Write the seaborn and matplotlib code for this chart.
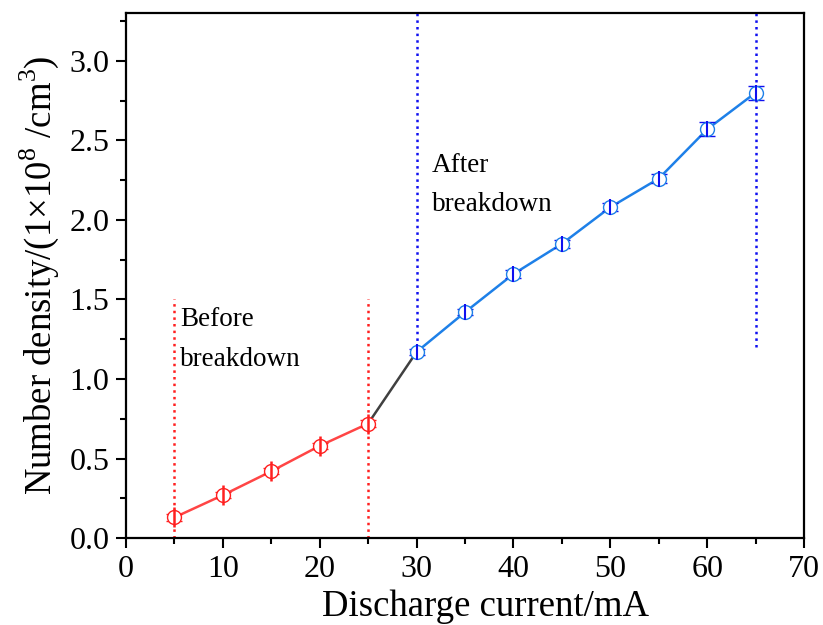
import numpy as np
import pandas as pd
import matplotlib
matplotlib.use("Agg")
import matplotlib.pyplot as plt
import seaborn as sns
from matplotlib.ticker import MultipleLocator

# Data
before_x = [5, 10, 15, 20, 25]
before_y = [0.13, 0.27, 0.42, 0.58, 0.72]
before_err = [0.02, 0.02, 0.02, 0.02, 0.02]
after_x = [30, 35, 40, 45, 50, 55, 60, 65]
after_y = [1.17, 1.42, 1.66, 1.85, 2.08, 2.26, 2.57, 2.80]
after_err = [0.02, 0.02, 0.025, 0.025, 0.025, 0.03, 0.044, 0.044]
link_x = [25, 30]
link_y = [0.72, 1.17]

sns.set_theme(style="ticks")
plt.rcParams['font.family'] = ['Liberation Serif', 'DejaVu Serif']
plt.rcParams['mathtext.fontset'] = 'custom'
plt.rcParams['mathtext.rm'] = 'Liberation Serif'
plt.rcParams['text.color'] = 'black'
plt.rcParams['axes.labelcolor'] = 'black'
plt.rcParams['xtick.color'] = 'black'
plt.rcParams['ytick.color'] = 'black'

fig = plt.figure(figsize=(8.23, 6.25), dpi=100)
ax = fig.add_axes([0.153, 0.139, 0.824, 0.840])

red = '#FF2020'
red_line = '#FF4545'
blue = '#1010F0'
blue_line = '#1E80E8'
gray = '#404040'

df_b = pd.DataFrame({'x': before_x, 'y': before_y})
df_a = pd.DataFrame({'x': after_x, 'y': after_y})
df_l = pd.DataFrame({'x': link_x, 'y': link_y})

sns.lineplot(data=df_l, x='x', y='y', ax=ax, color=gray, lw=1.8, zorder=2)
sns.lineplot(data=df_b, x='x', y='y', ax=ax, color=red_line, lw=1.8, zorder=2)
sns.lineplot(data=df_a, x='x', y='y', ax=ax, color=blue_line, lw=1.8, zorder=2)

ax.errorbar(before_x, before_y, yerr=before_err, fmt='o', ms=10, mfc='white',
            mec=red, mew=1.0, ecolor=red, elinewidth=1.8, capsize=6, capthick=2.2, zorder=3)
ax.errorbar(after_x, after_y, yerr=after_err, fmt='o', ms=10, mfc='white',
            mec=blue_line, mew=1.0, ecolor=blue, elinewidth=1.8, capsize=6, capthick=2.2, zorder=3)
# vertical strokes through markers (as in reference symbols)
ax.plot(before_x, before_y, ls='none', marker='|', ms=14, mew=1.8, color=red, zorder=4)
ax.plot(after_x, after_y, ls='none', marker='|', ms=12, mew=1.5, color=blue, zorder=4)

# Dotted guide lines
ax.plot([5, 5], [0, 1.5], ls=':', color=red, lw=1.8, zorder=1)
ax.plot([25, 25], [0, 1.5], ls=':', color=red, lw=1.8, zorder=1)
ax.plot([30, 30], [1.2, 3.3], ls=':', color=blue, lw=1.8, zorder=1)
ax.plot([65, 65], [1.2, 3.3], ls=':', color=blue, lw=1.8, zorder=1)

ax.text(5.6, 1.45, 'Before\nbreakdown', fontsize=19.5, va='top', ha='left', linespacing=1.75)
ax.text(31.6, 2.42, 'After\nbreakdown', fontsize=19.5, va='top', ha='left', linespacing=1.75)

ax.set_xlim(0, 70)
ax.set_ylim(0, 3.3)
ax.xaxis.set_major_locator(MultipleLocator(10))
ax.xaxis.set_minor_locator(MultipleLocator(5))
ax.yaxis.set_minor_locator(MultipleLocator(0.25))
ax.set_yticks(np.arange(0, 3.01, 0.5))
ax.set_yticklabels([f'{v:.1f}' for v in np.arange(0, 3.01, 0.5)])

ax.tick_params(which='major', direction='out', length=7, width=1.5, labelsize=23, pad=5, colors='black')
ax.tick_params(which='minor', direction='out', length=4, width=1.5)
for s in ax.spines.values():
    s.set_linewidth(1.6)
    s.set_color('black')

ax.set_xlabel('Discharge current/mA', fontsize=26.5)
ax.xaxis.set_label_coords(0.53, -0.097)
ax.set_ylabel(r'Number density/(1$\times$10$^{8}$ /cm$^{3}$)', fontsize=26.5, labelpad=6)

fig.savefig('out.png', dpi=100)
